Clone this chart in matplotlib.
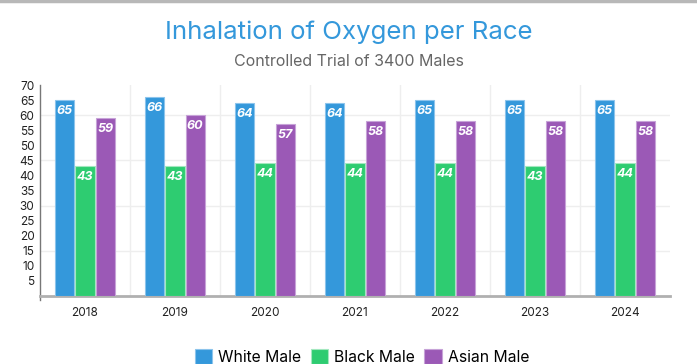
import matplotlib
matplotlib.use("Agg")
import matplotlib.pyplot as plt
import numpy as np

plt.rcParams['font.family'] = ['Inter', 'DejaVu Sans']

# data
years = ['2018', '2019', '2020', '2021', '2022', '2023', '2024']
white_male = [65, 66, 64, 64, 65, 65, 65]
black_male = [43, 43, 44, 44, 44, 43, 44]
asian_male = [59, 60, 57, 58, 58, 58, 58]
series_names = ['White Male', 'Black Male', 'Asian Male']
colors = ['#3498db', '#2ecc71', '#9b59b6']
edges = ['#8cc4ec', '#a3e8bf', '#c7a3d8']

fig = plt.figure(figsize=(6.97, 3.64), dpi=100)
ax = fig.add_axes([40/697, 68/364, 630/697, 211/364])

x = np.arange(len(years))
w = 0.215
for i, (vals, c, ec, name) in enumerate(zip([white_male, black_male, asian_male], colors, edges, series_names)):
    pos = x + (i - 1) * (w + 0.01)
    ax.bar(pos, vals, width=w, color=c, edgecolor=ec, linewidth=0.8, label=name, zorder=3)
    for xp, v in zip(pos, vals):
        ax.text(xp, v - 3.6, str(v), ha='center', va='center', color='white',
                fontsize=9, fontstyle='italic', fontweight='bold', zorder=4)

ax.set_xlim(-0.5, len(years) - 0.5)
ax.set_ylim(0, 70)
ax.set_yticks(range(5, 71, 5))
ax.set_xticks(x)
ax.set_xticklabels(years)
ax.tick_params(axis='both', length=0, labelsize=8.5, colors='#222222')
ax.tick_params(axis='y', pad=4)
ax.tick_params(axis='x', pad=8)

# grid
for v in [15, 30, 45, 60]:
    ax.axhline(v, color='#eeeeee', linewidth=1, zorder=1)
for b in np.arange(0.5, len(years) - 0.5, 1):
    ax.axvline(b, color='#eeeeee', linewidth=1, zorder=1)

for s in ['top', 'right']:
    ax.spines[s].set_visible(False)
ax.spines['left'].set_color('#777777')
ax.spines['left'].set_linewidth(1)
ax.spines['left'].set_bounds(-1.2, 70)
ax.spines['bottom'].set_color('#b0b0b0')
ax.spines['bottom'].set_linewidth(2)

fig.text(0.5, 1 - 32/364, 'Inhalation of Oxygen per Race', ha='center', va='center',
         fontsize=18.6, color='#3498db')
fig.text(0.5, 1 - 62/364, 'Controlled Trial of 3400 Males', ha='center', va='center',
         fontsize=11.5, color='#666666')

# top border
fig.add_artist(plt.Line2D([0, 1], [1 - 1/364, 1 - 1/364], color='#b8b8b8', linewidth=2.5))

fig.legend(loc='center', bbox_to_anchor=(362/697, 1 - 357/364), ncol=3, frameon=False,
           fontsize=11.3, handlelength=1.1, handleheight=1.1, handletextpad=0.4,
           columnspacing=0.6)

fig.savefig('out.png', dpi=100)
